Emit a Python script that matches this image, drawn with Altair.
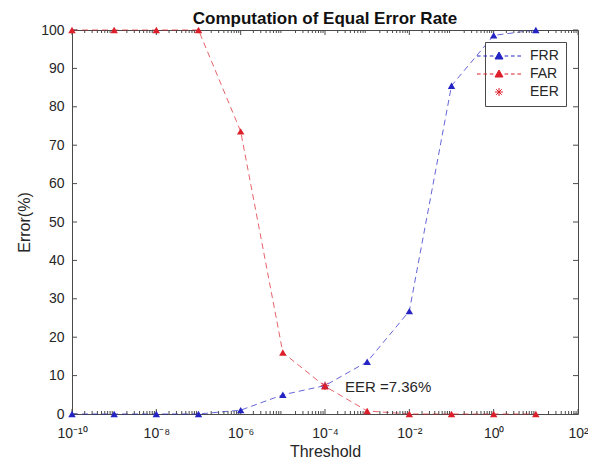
import json
import altair as alt
import pandas as pd

# ---------------- data ----------------
thresholds = [1e-10, 1e-9, 1e-8, 1e-7, 1e-6, 1e-5, 1e-4, 1e-3, 1e-2, 1e-1, 1e0, 1e1]
frr = [0, 0, 0, 0, 1.0, 5.0, 7.4, 13.6, 26.8, 85.5, 98.6, 100]
far = [100, 100, 100, 100, 73.6, 16.0, 7.2, 0.8, 0, 0, 0, 0]
eer_threshold = [1e-4]
eer_value = [7.36]
series_names = ["FRR", "FAR", "EER"]

x_tick_values = [1e-10, 1e-8, 1e-6, 1e-4, 1e-2, 1e0, 1e2]
x_tick_labels = ["10⁻¹⁰", "10⁻⁸", "10⁻⁶", "10⁻⁴", "10⁻²", "10⁰", "10²"]
y_tick_values = [0, 10, 20, 30, 40, 50, 60, 70, 80, 90, 100]
minor_x = [k * 10.0 ** e for e in range(-10, 2) for k in range(2, 10)]

# ---------------- style ----------------
BLUE = "#2424c4"
RED = "#dc1f2a"
FRAME = "#4a4a4a"
TXT = "#262626"
FONT = "Liberation Sans"
W, H = 506, 384

# legend symbols: dashed line + marker (unit box scaled by symbol size)
frr_sym = ("M-5.5,0H-4.6M-3.9,0H-3M-2.3,0H-1.4M1.4,0H2.3M3,0H3.9M4.6,0H5.5"
           "M0,-1L1,0.75L-1,0.75Z")
far_sym = frr_sym
eer_sym = "M0,-1V1M-1,0H1M-0.7,-0.7L0.7,0.7M-0.7,0.7L0.7,-0.7"

curves = pd.DataFrame({
    "x": thresholds + thresholds,
    "y": frr + far,
    "series": ["FRR"] * len(thresholds) + ["FAR"] * len(thresholds),
})
eer_df = pd.DataFrame({
    "x": eer_threshold,
    "y": eer_value,
    "series": ["EER"],
    "label": [f"EER ={v}%" for v in eer_value],
})

xscale = alt.Scale(type="log", domain=[1e-10, 1e2], nice=False)
yscale = alt.Scale(domain=[0, 100], nice=False, zero=False)

label_expr = (json.dumps(x_tick_labels, ensure_ascii=False)
              + "[round((log(datum.value)/LN10 + 10)/2)]")

x_axis = alt.Axis(values=x_tick_values, labelExpr=label_expr, ticks=False,
                  domain=False, grid=False, labelPadding=12, labelFontSize=14,
                  labelColor=TXT, labelFlush=False, labelOverlap=False,
                  title="Threshold", titleFontSize=16, titleFontWeight="normal",
                  titleColor=TXT, titlePadding=3)
y_axis = alt.Axis(values=y_tick_values, ticks=False, domain=False, grid=False,
                  labelPadding=8, labelFontSize=14, labelColor=TXT,
                  title="Error(%)", titleFontSize=16, titleFontWeight="normal",
                  titleColor=TXT, titlePadding=8)


def X():
    return alt.X("x:Q", scale=xscale, axis=x_axis)


def Y():
    return alt.Y("y:Q", scale=yscale, axis=y_axis)


color_scale = alt.Scale(domain=["FRR", "FAR"], range=[BLUE, RED])

lines = alt.Chart(curves).mark_line(strokeDash=[6, 4], strokeWidth=1, opacity=0.7).encode(
    x=X(), y=Y(),
    color=alt.Color("series:N", scale=color_scale, legend=None),
    detail="series:N",
)

tri = alt.Chart(curves).mark_point(shape="triangle-up", filled=True, size=55, opacity=1).encode(
    x=X(), y=Y(),
    color=alt.Color("series:N", scale=color_scale, legend=None),
)

leg = alt.Legend(title=None, orient="top-right", offset=12, padding=7,
                 strokeColor=FRAME, fillColor="white", symbolSize=64,
                 symbolStrokeWidth=1, labelFontSize=14, labelColor=TXT,
                 labelOffset=24, rowPadding=4, labelFont=FONT)

eer_pt = alt.Chart(eer_df).mark_point(size=70, strokeWidth=1, opacity=1).encode(
    x=X(), y=Y(),
    shape=alt.Shape("series:N", scale=alt.Scale(domain=series_names,
                    range=[frr_sym, far_sym, eer_sym]), legend=leg),
    fill=alt.Fill("series:N", scale=alt.Scale(domain=series_names,
                  range=[BLUE, RED, RED]), legend=leg),
    stroke=alt.Stroke("series:N", scale=alt.Scale(domain=series_names,
                      range=[BLUE, RED, RED]), legend=leg),
)

eer_text = alt.Chart(eer_df).mark_text(align="left", baseline="middle", dx=20, dy=1,
                                       fontSize=15, color=TXT, font=FONT).encode(
    x=X(), y=Y(),
    text="label:N",
)

# inward MATLAB-style ticks
ymaj = pd.DataFrame({"y": y_tick_values})
xmaj = pd.DataFrame({"x": x_tick_values})
xmin = pd.DataFrame({"x": minor_x})


def yticks(x0, x1):
    return alt.Chart(ymaj).mark_rule(color=FRAME, strokeWidth=1).encode(
        y=Y(), x=alt.value(x0), x2=alt.value(x1))


def xticks(df, y0, y1):
    return alt.Chart(df).mark_rule(color=FRAME, strokeWidth=1).encode(
        x=X(), y=alt.value(y0), y2=alt.value(y1))


ticks = [
    yticks(0, 5), yticks(W - 5, W),
    xticks(xmaj, H, H - 5), xticks(xmaj, 0, 5),
    xticks(xmin, H, H - 3), xticks(xmin, 0, 3),
]

chart = alt.layer(lines, *ticks, tri, eer_pt, eer_text).properties(
    width=W, height=H,
    title=alt.TitleParams("Computation of Equal Error Rate", fontSize=17,
                          fontWeight="bold", color="#111111", offset=-5,
                          font=FONT),
    padding={"left": 64, "top": 22, "right": 10, "bottom": 46},
    autosize=alt.AutoSizeParams(type="none"),
).configure(font=FONT, background="white").configure_view(
    stroke=FRAME, strokeWidth=1
)

chart.save("out.html", embed_options={"renderer": "svg", "actions": False})
